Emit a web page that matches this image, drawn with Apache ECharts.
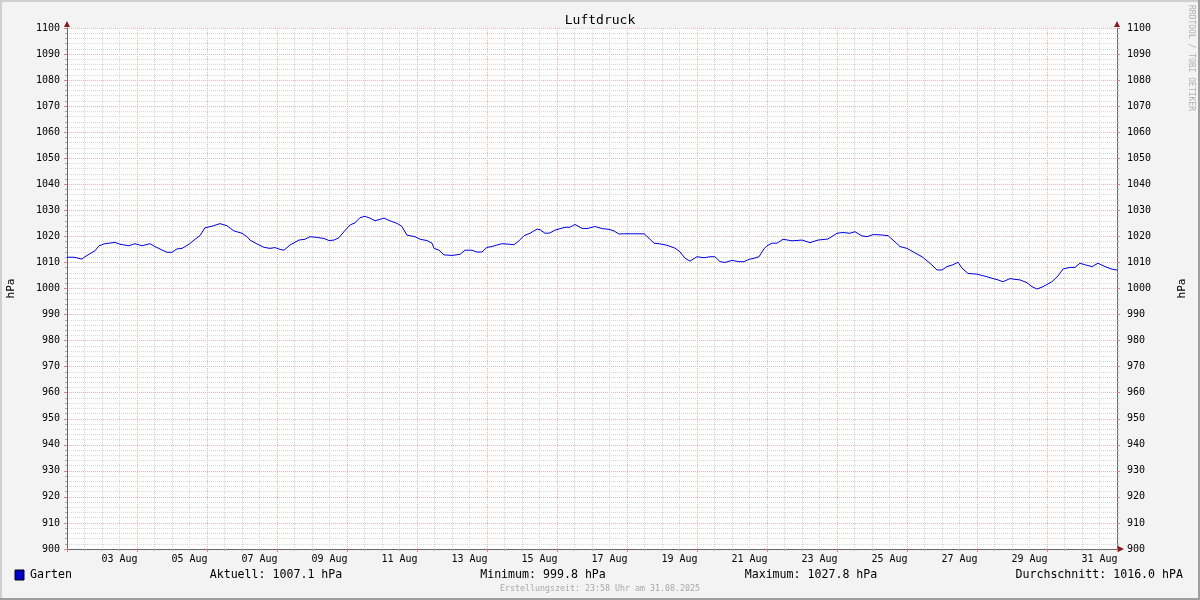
<!DOCTYPE html>
<html>
<head>
<meta charset="utf-8">
<script src="https://cdn.jsdelivr.net/npm/echarts@6/dist/echarts.min.js"></script>
<style>html,body{margin:0;padding:0;background:#f3f3f3;}#c{width:1200px;height:600px;}</style>
</head>
<body>
<div id="c"></div>
<script>
// hours since 02 Aug 2025 00:00
var hours = [0,4.8,10.3,12.3,17.1,19.2,21.9,26.1,32.9,36.3,42.5,46.6,51.4,56.9,60.3,65.1,68.6,72,75.4,78.9,83.7,87.8,91.2,94.6,99.4,104.9,109.7,114.5,120,
123.4,125.5,130.3,135.1,139.2,142.6,146.1,148.8,152.9,159.1,163.2,166.6,171.4,176.2,179.7,183.1,186.5,189.9,194.1,197.5,200.9,204.3,207.8,211.2,217.4,221.5,226.3,229.7,233.1,238.6,
242.1,246.9,250.3,251.7,255.1,258.5,264,269.5,272.9,277.7,281.1,284.6,288,291.4,294.9,298.3,303.1,306.5,309.9,313.4,317.5,322.3,324.3,327.8,331.2,334.6,341.5,344.9,348.3,353.1,356.6,
362,366.9,371.7,375.1,378.5,381.9,395.7,399.1,402.5,405.9,411.4,416.9,420.3,423.8,427.2,432,436.8,440.9,444.3,447.8,451.2,456,460.8,464.2,467.7,471.1,474.5,477.9,480,
483.4,486.9,491,497.1,504,509.5,515,521.8,528,532.1,536.9,540.3,545.1,548.6,552.7,557.5,563,566.4,571.2,576,580.1,586.3,591.8,596.6,600,603.4,607.5,611,613.7,617.8,624,
630.9,635,638.4,641.8,646.6,650.1,653.5,658.3,661.7,665.1,669.3,675.4,679.5,683,687.8,691.2,694.6,698.1,702.9,707,711.8,716.6,720];
var pressure = [1012.0,1012.0,1011.3,1012.2,1013.8,1014.5,1016.4,1017.2,1017.7,1017.0,1016.4,1017.2,1016.4,1017.2,1016.1,1014.8,1013.9,1013.9,1015.2,1015.4,1017.0,1018.9,1020.3,1023.3,1023.9,1024.9,1024.1,1022.1,1021.2,
1019.9,1018.6,1017.1,1015.8,1015.4,1015.7,1015.0,1014.7,1016.7,1018.6,1018.9,1019.9,1019.6,1019.2,1018.4,1018.6,1019.5,1021.8,1024.4,1025.2,1027.2,1027.7,1027.0,1026.0,1027.0,1026.0,1025.0,1023.8,1020.5,1019.9,
1018.9,1018.4,1017.4,1015.4,1014.7,1012.9,1012.7,1013.1,1014.7,1014.7,1014.0,1014.0,1015.8,1016.1,1016.7,1017.2,1017.0,1016.8,1018.3,1020.3,1021.2,1022.8,1022.6,1021.2,1021.3,1022.4,1023.5,1023.5,1024.6,1023.1,1023.0,
1023.8,1023.0,1022.7,1022.1,1020.9,1021.0,1021.0,1019.3,1017.4,1017.2,1016.6,1015.5,1014.1,1011.6,1010.5,1012.2,1011.8,1012.2,1012.2,1010.3,1010.0,1010.8,1010.3,1010.3,1011.2,1011.6,1012.2,1015.2,1016.4,
1017.4,1017.4,1018.9,1018.3,1018.6,1017.6,1018.6,1019.0,1021.2,1021.5,1021.2,1021.8,1020.2,1019.9,1020.7,1020.6,1020.3,1018.6,1016.1,1015.4,1014.1,1012.2,1009.7,1007.1,1007.1,1008.4,1009.1,1010.1,1007.8,1005.8,1005.5,
1004.5,1003.8,1003.3,1002.6,1003.8,1003.5,1003.3,1002.2,1000.7,999.8,1000.7,1002.6,1004.8,1007.5,1008.1,1008.1,1009.7,1009.1,1008.4,1009.7,1008.4,1007.4,1007.1];
var dateLabels = ['03 Aug','05 Aug','07 Aug','09 Aug','11 Aug','13 Aug','15 Aug','17 Aug','19 Aug','21 Aug','23 Aug','25 Aug','27 Aug','29 Aug','31 Aug'];
var dateLabelHours = [36,84,132,180,228,276,324,372,420,468,516,564,612,660,708];
var seriesName = 'Garten';
var legendTexts = ['Aktuell: 1007.1 hPa','Minimum: 999.8 hPa','Maximum: 1027.8 hPa','Durchschnitt: 1016.0 hPA'];
var titleText = 'Luftdruck';
var footerText = 'Erstellungszeit: 23:58 Uhr am 31.08.2025';
var watermark = 'RRDTOOL / TOBI OETIKER';
var unit = 'hPa';

var FONT = 'DejaVu Sans Mono';
var data = hours.map(function(h, i){ return [h, pressure[i]]; });

function yAxisDef(pos){
  var left = pos === 'left';
  return {
    type: 'value', position: pos, min: 900, max: 1100, interval: 10,
    name: unit, nameLocation: 'middle', nameGap: left ? 50 : 60, nameRotate: 90,
    nameTextStyle: {fontFamily: FONT, fontSize: 11, color: '#000'},
    axisLine: {show: true, lineStyle: {color: '#666', width: 1}},
    axisTick: {show: true, length: 3, lineStyle: {color: '#e08080'}},
    minorTick: {show: true, splitNumber: 5, length: 2, lineStyle: {color: '#aaa'}},
    axisLabel: {fontFamily: FONT, fontSize: 10, color: '#000', margin: left ? 7 : 10, formatter: function(v){ return String(v); }},
    splitLine: {show: left, lineStyle: {color: '#eeb4b4', type: [1,1], width: 1}},
    minorSplitLine: {show: left, lineStyle: {color: '#d8d8d8', type: [1,1], width: 1}}
  };
}

var chart = echarts.init(document.getElementById('c'), null, {renderer: 'canvas'});
chart.setOption({
  backgroundColor: '#f3f3f3',
  animation: false,
  title: {text: titleText, left: 'center', top: 9, textStyle: {fontFamily: FONT, fontSize: 13, fontWeight: 'normal', color: '#000'}},
  grid: {left: 67, right: 83, top: 28, bottom: 51, show: true, backgroundColor: '#ffffff', borderWidth: 0, containLabel: false, outerBoundsMode: 'none'},
  xAxis: {
    type: 'value', min: 0, max: 720, interval: 48,
    axisLine: {show: true, onZero: false, lineStyle: {color: '#666', width: 1}},
    axisTick: {show: true, length: 3, lineStyle: {color: '#e08080'}},
    minorTick: {show: true, splitNumber: 4, length: 2, lineStyle: {color: '#aaa'}},
    axisLabel: {
      customValues: dateLabelHours, fontFamily: FONT, fontSize: 10, color: '#000', margin: 5,
      formatter: function(v){ var i = dateLabelHours.indexOf(Math.round(v)); return i >= 0 ? dateLabels[i] : ''; }
    },
    splitLine: {show: true, lineStyle: {color: '#eeb4b4', type: [1,1], width: 1}},
    minorSplitLine: {show: true, lineStyle: {color: '#d8d8d8', type: [1,1], width: 1}}
  },
  yAxis: [yAxisDef('left'), yAxisDef('right')],
  series: [{
    name: seriesName, type: 'line', data: data, showSymbol: false, symbol: 'none',
    lineStyle: {color: '#0000dd', width: 1}, z: 5
  }],
  graphic: [
    {type: 'rect', shape: {x: 0, y: 0, width: 1200, height: 2}, style: {fill: '#cfcfcf'}, z: 100},
    {type: 'rect', shape: {x: 0, y: 0, width: 2, height: 600}, style: {fill: '#cfcfcf'}, z: 100},
    {type: 'rect', shape: {x: 0, y: 598, width: 1200, height: 2}, style: {fill: '#9e9e9e'}, z: 100},
    {type: 'rect', shape: {x: 1198, y: 0, width: 2, height: 600}, style: {fill: '#9e9e9e'}, z: 100},
    {type: 'polygon', shape: {points: [[64,27],[70,27],[67,21]]}, style: {fill: '#8b1a1a'}, z: 100},
    {type: 'polygon', shape: {points: [[1114,27],[1120,27],[1117,21]]}, style: {fill: '#8b1a1a'}, z: 100},
    {type: 'polygon', shape: {points: [[1118,546],[1118,552],[1124,549]]}, style: {fill: '#8b1a1a'}, z: 100},
    {type: 'text', x: 1195, y: 5, rotation: -Math.PI/2, style: {text: watermark, font: '8px "DejaVu Sans Mono"', fill: '#b0b0b0', textAlign: 'left', textVerticalAlign: 'top'}, z: 100},
    {type: 'rect', shape: {x: 15, y: 570, width: 9, height: 10}, style: {fill: '#0000cc', stroke: '#000', lineWidth: 1}, z: 100},
    {type: 'text', x: 30, y: 575, style: {text: seriesName, font: '11.6px "DejaVu Sans Mono"', fill: '#000', textAlign: 'left', textVerticalAlign: 'middle'}, z: 100},
    {type: 'text', x: 276, y: 575, style: {text: legendTexts[0], font: '11.6px "DejaVu Sans Mono"', fill: '#000', textAlign: 'center', textVerticalAlign: 'middle'}, z: 100},
    {type: 'text', x: 543, y: 575, style: {text: legendTexts[1], font: '11.6px "DejaVu Sans Mono"', fill: '#000', textAlign: 'center', textVerticalAlign: 'middle'}, z: 100},
    {type: 'text', x: 811, y: 575, style: {text: legendTexts[2], font: '11.6px "DejaVu Sans Mono"', fill: '#000', textAlign: 'center', textVerticalAlign: 'middle'}, z: 100},
    {type: 'text', x: 1183, y: 575, style: {text: legendTexts[3], font: '11.6px "DejaVu Sans Mono"', fill: '#000', textAlign: 'right', textVerticalAlign: 'middle'}, z: 100},
    {type: 'text', x: 600, y: 589, style: {text: footerText, font: '8.3px "DejaVu Sans Mono"', fill: '#a8a8a8', textAlign: 'center', textVerticalAlign: 'middle'}, z: 100}
  ]
});
</script>
</body>
</html>
